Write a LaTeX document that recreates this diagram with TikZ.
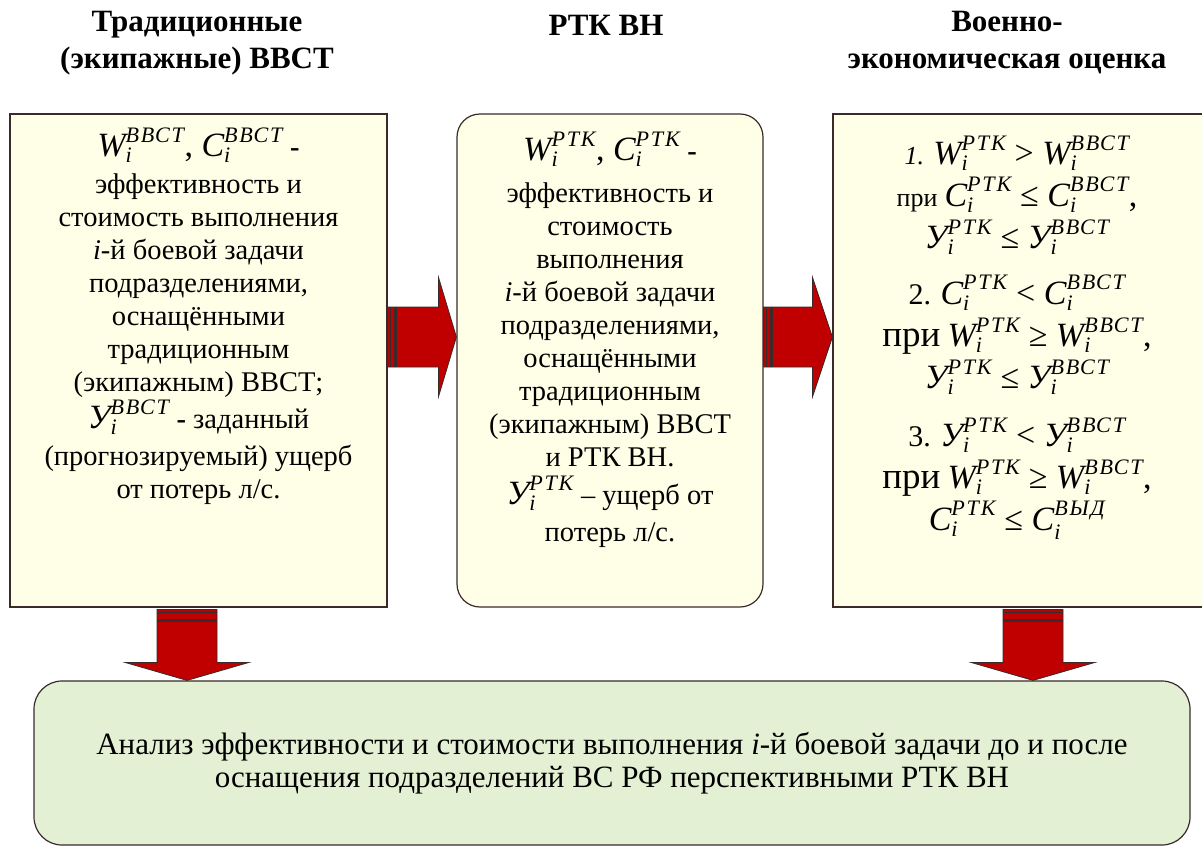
\documentclass[tikz,border=0pt]{standalone}
\usepackage{amsmath}
\usepackage{fontspec}
\setmainfont{Liberation Serif}
\usetikzlibrary{calc}
\renewcommand{\defaultscriptratio}{.65}

\definecolor{krem}{HTML}{FFFFE8}
\definecolor{salat}{HTML}{E4F0D4}
\definecolor{krasn}{HTML}{C00000}
\definecolor{kontur}{HTML}{3A2A2A}

% pokazatel' s indeksom i
\newcommand{\pk}[2]{$\textit{#1}_{\textit{i}}^{\textit{\addfontfeature{LetterSpace=8}#2}}$}
\newcommand{\fb}{\fontsize{34}{40}\selectfont}
\newcommand{\plotno}{\lineskiplimit=-60pt\relax}

\begin{document}
\begin{tikzpicture}[x=1pt,y=-1pt,
  blok/.style={draw=kontur, line width=1.2pt, fill=krem, inner sep=0pt},
  txt/.style={align=center, inner sep=0pt,
    font=\fontsize{28.5}{33}\selectfont\plotno},
  zag/.style={align=center, inner sep=0pt, font=\bfseries\fontsize{31}{37}\selectfont},
  strelka/.style={fill=krasn, draw=kontur, line width=0.8pt, line join=miter},
  polosa/.style={draw=kontur, line width=1pt}]
\useasboundingbox (0,0) rectangle (1202,846);
\clip (0,0) rectangle (1202,846);

% zagolovki
\node[zag] (zTrad) at (197,43) {Традиционные\\(экипажные) ВВСТ};
\node[zag] (zRtk) at (606,25) {РТК ВН};
\node[zag] (zOcenka) at (1007,43) {Военно-\\экономическая оценка};

% bloki
\node[blok, minimum width=377, minimum height=493] (trad) at (198.5,360.5) {};
\node[blok, rounded corners=23, minimum width=306, minimum height=493] (rtk) at (610,360.5) {};
\node[blok, minimum width=372, minimum height=493] (ocenka) at (1019,360.5) {};
\node[blok, fill=salat, rounded corners=28, minimum width=1156, minimum height=164,
  txt, font=\fontsize{31}{33}\selectfont] (analiz) at (612,763)
  {Анализ эффективности и стоимости выполнения \textit{i}-й боевой задачи до и после\\
  оснащения подразделений ВС РФ перспективными РТК ВН};

% teksty
\node[txt, anchor=north] (tradTxt) at ($(trad.north)+(0,14)$)
  {{\fb\pk{W}{ВВСТ}, \pk{C}{ВВСТ}} \textbf{-}\\[4pt]
   эффективность и\\
   стоимость выполнения\\
   \textit{i}-й боевой задачи\\
   подразделениями,\\
   оснащёнными\\
   традиционным\\
   (экипажным) ВВСТ;\\[4pt]
   {\fb\pk{У}{ВВСТ}} \textbf{-} заданный\\[4pt]
   (прогнозируемый) ущерб\\
   от потерь л/с.};
\node[txt, anchor=north] (rtkTxt) at ($(rtk.north)+(0,18)$)
  {{\fb\pk{W}{РТК}, \pk{C}{РТК}} \textbf{-}\\[9pt]
   эффективность и\\
   стоимость\\
   выполнения\\
   \textit{i}-й боевой задачи\\
   подразделениями,\\
   оснащёнными\\
   традиционным\\
   (экипажным) ВВСТ\\
   и РТК ВН.\\[5pt]
   {\fb\pk{У}{РТК}} – ущерб от\\[4pt]
   потерь л/с.};
\node[txt, anchor=north, font=\fontsize{28}{42}\selectfont\plotno]
  (ocenkaTxt) at ($(ocenka.north)+(-2,22)$)
  {{\fontsize{26}{30}\selectfont\textit{1.}} {\fb\pk{W}{РТК} > \pk{W}{ВВСТ}}\\
   {\fontsize{26}{30}\selectfont при} {\fb\pk{C}{РТК} ≤ \pk{C}{ВВСТ},}\\
   {\fb\pk{У}{РТК} ≤ \pk{У}{ВВСТ}}\\[14pt]
   {\fontsize{30}{30}\selectfont 2.} {\fb\pk{C}{РТК} < \pk{C}{ВВСТ}}\\
   {\fontsize{37}{37}\selectfont при} {\fb\pk{W}{РТК} ≥ \pk{W}{ВВСТ},}\\
   {\fb\pk{У}{РТК} ≤ \pk{У}{ВВСТ}}\\[16pt]
   {\fontsize{30}{30}\selectfont 3.} {\fb\pk{У}{РТК} < \pk{У}{ВВСТ}}\\
   {\fontsize{37}{37}\selectfont при} {\fb\pk{W}{РТК} ≥ \pk{W}{ВВСТ},}\\
   {\fb\pk{C}{РТК} ≤ \pk{C}{ВЫД}}};

% strelki vpravo
\coordinate (a1s) at (trad.east |- 0,337);
\coordinate (a1e) at (rtk.west |- 0,337);
\draw[strelka] ($(a1s)+(0,-30)$) -- ($(a1e)+(-18,-30)$) -- ($(a1e)+(-18,-60)$) -- (a1e)
  -- ($(a1e)+(-18,60)$) -- ($(a1e)+(-18,30)$) -- ($(a1s)+(0,30)$) -- cycle;
\draw[polosa] ($(a1s)+(3,-30)$) -- ($(a1s)+(3,30)$);
\draw[polosa, line width=2.5pt] ($(a1s)+(8,-30)$) -- ($(a1s)+(8,30)$);

\coordinate (a2s) at (rtk.east |- 0,337);
\coordinate (a2e) at (ocenka.west |- 0,337);
\draw[strelka] ($(a2s)+(0,-30)$) -- ($(a2e)+(-20,-30)$) -- ($(a2e)+(-20,-60)$) -- (a2e)
  -- ($(a2e)+(-20,60)$) -- ($(a2e)+(-20,30)$) -- ($(a2s)+(0,30)$) -- cycle;
\draw[polosa] ($(a2s)+(3,-30)$) -- ($(a2s)+(3,30)$);
\draw[polosa, line width=2.5pt] ($(a2s)+(8,-30)$) -- ($(a2s)+(8,30)$);

% strelki vniz
\coordinate (d1s) at (187,0 |- trad.south);
\coordinate (d1e) at (187,0 |- analiz.north);
\draw[strelka] ($(d1s)+(-30,2)$) -- ($(d1e)+(-30,-18)$) -- ($(d1e)+(-62,-18)$) -- (d1e)
  -- ($(d1e)+(62,-18)$) -- ($(d1e)+(30,-18)$) -- ($(d1s)+(30,2)$) -- cycle;
\draw[polosa] ($(d1s)+(-30,5)$) -- ($(d1s)+(30,5)$);
\draw[polosa, line width=2.5pt] ($(d1s)+(-30,13)$) -- ($(d1s)+(30,13)$);

\coordinate (d2s) at (1033,0 |- ocenka.south);
\coordinate (d2e) at (1033,0 |- analiz.north);
\draw[strelka] ($(d2s)+(-30,2)$) -- ($(d2e)+(-30,-18)$) -- ($(d2e)+(-62,-18)$) -- (d2e)
  -- ($(d2e)+(62,-18)$) -- ($(d2e)+(30,-18)$) -- ($(d2s)+(30,2)$) -- cycle;
\draw[polosa] ($(d2s)+(-30,5)$) -- ($(d2s)+(30,5)$);
\draw[polosa, line width=2.5pt] ($(d2s)+(-30,13)$) -- ($(d2s)+(30,13)$);
\end{tikzpicture}
\end{document}
